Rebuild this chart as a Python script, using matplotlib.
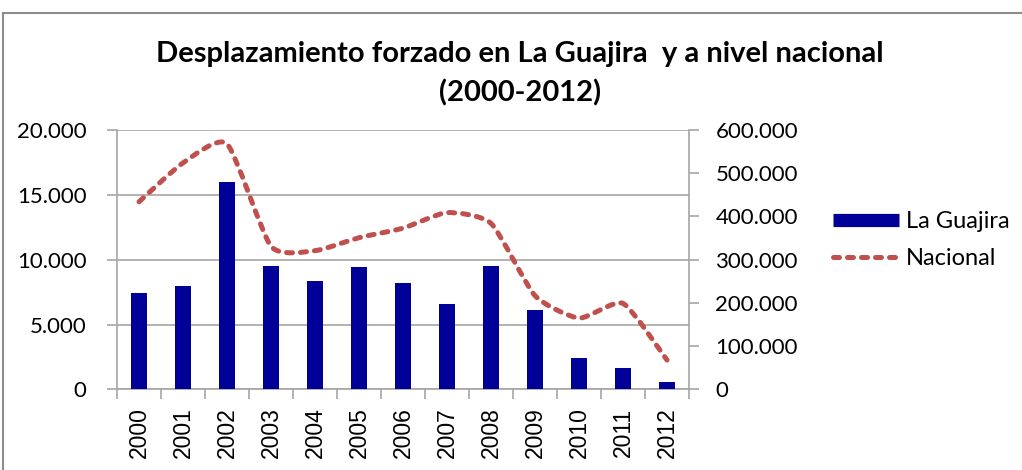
import matplotlib
matplotlib.use("Agg")
import matplotlib.pyplot as plt
import numpy as np
from matplotlib.path import Path
from matplotlib.patches import PathPatch, Rectangle
from matplotlib.lines import Line2D
from matplotlib.ticker import FuncFormatter

years = ["2000", "2001", "2002", "2003", "2004", "2005", "2006",
         "2007", "2008", "2009", "2010", "2011", "2012"]
la_guajira = [7450, 8000, 16000, 9500, 8400, 9450, 8200,
              6600, 9500, 6150, 2400, 1650, 600]
nacional = [434000, 524000, 568000, 331000, 321000, 351000, 373000,
            409000, 384000, 217000, 165000, 199000, 68000]

bar_color = "#000099"
line_color = "#C0504D"
grid_color = "#A6A6A6"
dash = (0, (1.2, 1.6))


def miles(v, pos):
    return f"{int(v):,}".replace(",", ".")


def smooth_path(xs, ys, t=0.1):
    # Excel-like smoothed line: cardinal spline as cubic bezier segments
    n = len(xs)
    verts = [(xs[0], ys[0])]
    codes = [Path.MOVETO]
    for i in range(n - 1):
        x0, y0 = xs[max(i - 1, 0)], ys[max(i - 1, 0)]
        x1, y1 = xs[i], ys[i]
        x2, y2 = xs[i + 1], ys[i + 1]
        x3, y3 = xs[min(i + 2, n - 1)], ys[min(i + 2, n - 1)]
        c1 = (x1 + (x2 - x0) * t, y1 + (y2 - y0) * t)
        c2 = (x2 - (x3 - x1) * t, y2 - (y3 - y1) * t)
        verts += [c1, c2, (x2, y2)]
        codes += [Path.CURVE4] * 3
    return Path(verts, codes)


fig = plt.figure(figsize=(10.22, 4.70), dpi=100)
ax = fig.add_axes([0.1145, 0.1713, 0.5597, 0.5521])
ax2 = ax.twinx()

x = np.arange(len(years))
ax.set_axisbelow(True)
ax.bar(x, la_guajira, width=0.38, color=bar_color, zorder=3)
ax.set_xlim(-0.5, len(years) - 0.5)
ax.set_ylim(0, 20000)
ax.set_yticks(np.arange(0, 20001, 5000))
ax.yaxis.set_major_formatter(FuncFormatter(miles))
ax.yaxis.grid(True, color=grid_color, linewidth=1.2)

ax.set_xticks(x)
ax.set_xticklabels(years, rotation=90, fontsize=16.5, family="Liberation Sans")
ax.set_xticks(np.arange(-0.5, len(years)), minor=True)
ax.tick_params(axis="x", which="major", length=0, pad=13)
ax.tick_params(axis="x", which="minor", length=7, color=grid_color, width=1.2)
ax.tick_params(axis="y", length=7, color=grid_color, width=1.2, pad=15,
               labelsize=16)
for lab in ax.get_yticklabels():
    lab.set_family("Lato")

ax2.set_ylim(0, 600000)
ax2.set_yticks(np.arange(0, 600001, 100000))
ax2.yaxis.set_major_formatter(FuncFormatter(miles))
ax2.tick_params(axis="y", length=7, color=grid_color, width=1.2, pad=12,
                labelsize=16)
for lab in ax2.get_yticklabels():
    lab.set_family("Lato")

patch = PathPatch(smooth_path(list(x), nacional), facecolor="none",
                  edgecolor=line_color, linewidth=3.6,
                  linestyle=dash, capstyle="round")
ax2.add_patch(patch)

for a in (ax, ax2):
    for s in a.spines.values():
        s.set_visible(False)
for a, side in ((ax, "left"), (ax, "bottom"), (ax2, "right")):
    a.spines[side].set_visible(True)
    a.spines[side].set_color(grid_color)
    a.spines[side].set_linewidth(1.2)

fig.text(0.509, 0.886, "Desplazamiento forzado en La Guajira  y a nivel nacional",
         ha="center", va="center", fontsize=21, fontweight="bold", family="Lato")
fig.text(0.509, 0.803, "(2000-2012)", ha="center", va="center",
         fontsize=21, fontweight="bold", family="Lato")

handles = [Line2D([], [], color=bar_color, linewidth=9.5, solid_capstyle="butt"),
           Line2D([], [], color=line_color, linewidth=3.6,
                  linestyle=dash, dash_capstyle="round")]
fig.legend(handles, ["La Guajira", "Nacional"], loc="center left",
           bbox_to_anchor=(0.815, 0.489), frameon=False, handlelength=2.8,
           handletextpad=0.3, labelspacing=0.7, borderpad=0, borderaxespad=0,
           prop={"family": "Lato", "size": 17})

fig.patches.append(Rectangle((0.003, -0.1), 1.2, 1.0723, transform=fig.transFigure,
                             fill=False, edgecolor="#8C8C8C", linewidth=1.5))

fig.savefig("out.png", dpi=100)
